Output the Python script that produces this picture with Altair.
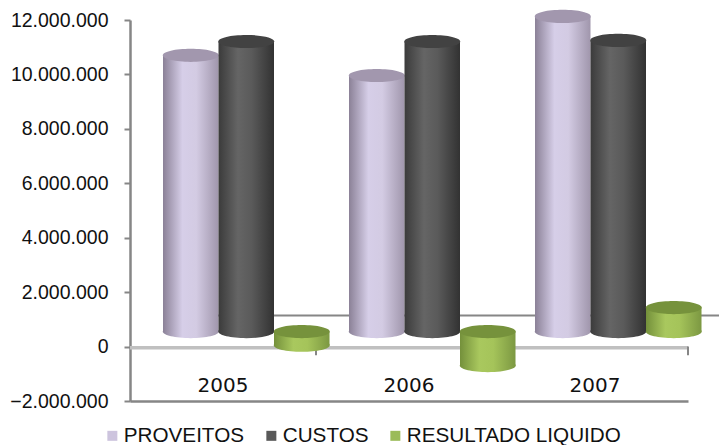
import altair as alt
import pandas as pd

years = ["2005", "2006", "2007"]
series = ["PROVEITOS", "CUSTOS", "RESULTADO LIQUIDO"]
proveitos = [10150000, 9410000, 11580000]
custos = [10660000, 10660000, 10700000]
resultado = [-500000, -1250000, 880000]
tick_values = [-2000000, 0, 2000000, 4000000, 6000000, 8000000, 10000000, 12000000]
legend_colors = ["#cdc4de", "#595959", "#9bbb59"]
top_colors = ["#a297ae", "#424242", "#76923c"]
side_stops = [
    ["#8b8197", "#d6cee8", "#d3cbe3", "#a096ac"],
    ["#3b3b3b", "#656565", "#5a5a5a", "#323232"],
    ["#74903b", "#a9c85e", "#a5c45a", "#7c9842"],
]

rows = []
for name, values in zip(series, [proveitos, custos, resultado]):
    for year, v in zip(years, values):
        rows.append({"year": year, "series": name, "top": max(v, 0), "bottom": min(v, 0)})
df = pd.DataFrame(rows)

ELLIPSE = "M -1 0 A 1 0.235 0 1 1 1 0 A 1 0.235 0 1 1 -1 0 Z"
DEPTH_Y = -15
ELL_SIZE = 56 * 56

y_scale = alt.Scale(domain=[-2000000, 12000000], nice=False, zero=False)
x_scale = alt.Scale(domain=years, paddingInner=0, paddingOuter=0)
off_scale = alt.Scale(domain=series, range=[33, 199.5], paddingInner=0, paddingOuter=0)

fmt = "datum.value === 0 ? '0' : replace(format(datum.value, ','), /,/g, '.')"

x_axis = alt.Axis(labelAngle=0, labelFont="DejaVu Sans", labelFontSize=20,
                  labelColor="#111111", labelPadding=-16, ticks=False,
                  domainColor="#868686", domainWidth=2.5, labelBaseline="middle")
x_enc = alt.X("year:N", scale=x_scale, title=None, sort=years, axis=x_axis)
off_enc = alt.XOffset("series:N", scale=off_scale, sort=series)
y_top = alt.Y("top:Q", scale=y_scale, title=None,
              axis=alt.Axis(values=tick_values, labelExpr=fmt, grid=False, labelFont="Liberation Sans",
                            labelFontSize=19.5, labelColor="#111111", tickColor="#868686", tickSize=6,
                            tickWidth=2, domainColor="#868686", domainWidth=2.5, labelPadding=16))


def grad(stops):
    return alt.Gradient(gradient="linear", x1=0, x2=1, y1=0, y2=0,
                        stops=[alt.GradientStop(offset=[0, 0.35, 0.6, 1][i], color=c)
                               for i, c in enumerate(stops)])


layers = []
# invisible layer that provides the legend
layers.append(
    alt.Chart(df).mark_point(opacity=0, shape="square", filled=True).encode(
        x=x_enc, xOffset=off_enc, y=y_top,
        color=alt.Color("series:N", sort=series, scale=alt.Scale(domain=series, range=legend_colors),
                        legend=alt.Legend(orient="none", legendX=-28, legendY=405, direction="horizontal",
                                          title=None, symbolType="square", symbolOpacity=1, symbolSize=100,
                                          symbolStrokeWidth=0,
                                          labelFont="Liberation Sans", labelFontSize=20.7, labelColor="#111111",
                                          columnPadding=16, labelOffset=1, labelLimit=300)),
    )
)
# back-wall floor line and the zero axis band
layers.append(alt.Chart(pd.DataFrame({"y": [1140000]})).mark_rule(color="#868686", strokeWidth=2, clip=False).encode(
    y=alt.Y("y:Q", scale=y_scale), x=alt.value(40), x2=alt.value(589)))
layers.append(alt.Chart(pd.DataFrame({"y": [-40000]})).mark_rule(color="#c0c0c0", strokeWidth=3.5).encode(
    y=alt.Y("y:Q", scale=y_scale), x=alt.value(0), x2=alt.value(558)))
tick_df = pd.DataFrame({"year": years, "a": [0, 0, 0], "b": [-320000] * 3})
layers.append(alt.Chart(tick_df).mark_rule(color="#868686", strokeWidth=2).encode(
    x=alt.X("year:N", scale=x_scale, bandPosition=1, title=None, sort=years, axis=x_axis),
    y=alt.Y("a:Q", scale=y_scale), y2="b:Q"))

for name, stops, top_c in zip(series, side_stops, top_colors):
    sub = df[df.series == name]
    base = alt.Chart(sub)
    layers.append(base.mark_point(shape=ELLIPSE, filled=True, fill=grad(stops), opacity=1, size=ELL_SIZE,
                                  yOffset=DEPTH_Y).encode(
        x=x_enc, xOffset=off_enc, y=alt.Y("bottom:Q", scale=y_scale)))
    layers.append(base.mark_bar(fill=grad(stops), yOffset=DEPTH_Y, y2Offset=DEPTH_Y).encode(
        x=x_enc, xOffset=off_enc, y=y_top, y2="bottom:Q"))
    layers.append(base.mark_point(shape=ELLIPSE, filled=True, fill=top_c, opacity=1, size=ELL_SIZE,
                                  yOffset=DEPTH_Y).encode(
        x=x_enc, xOffset=off_enc, y=y_top))

chart = alt.layer(*layers).properties(
    width=558, height=381,
    padding={"left": 122, "top": 12, "right": 31, "bottom": 44},
    autosize=alt.AutoSizeParams(type="none"),
).configure_view(stroke=None)

chart.save("out.html", embed_options={"renderer": "svg", "actions": False})
